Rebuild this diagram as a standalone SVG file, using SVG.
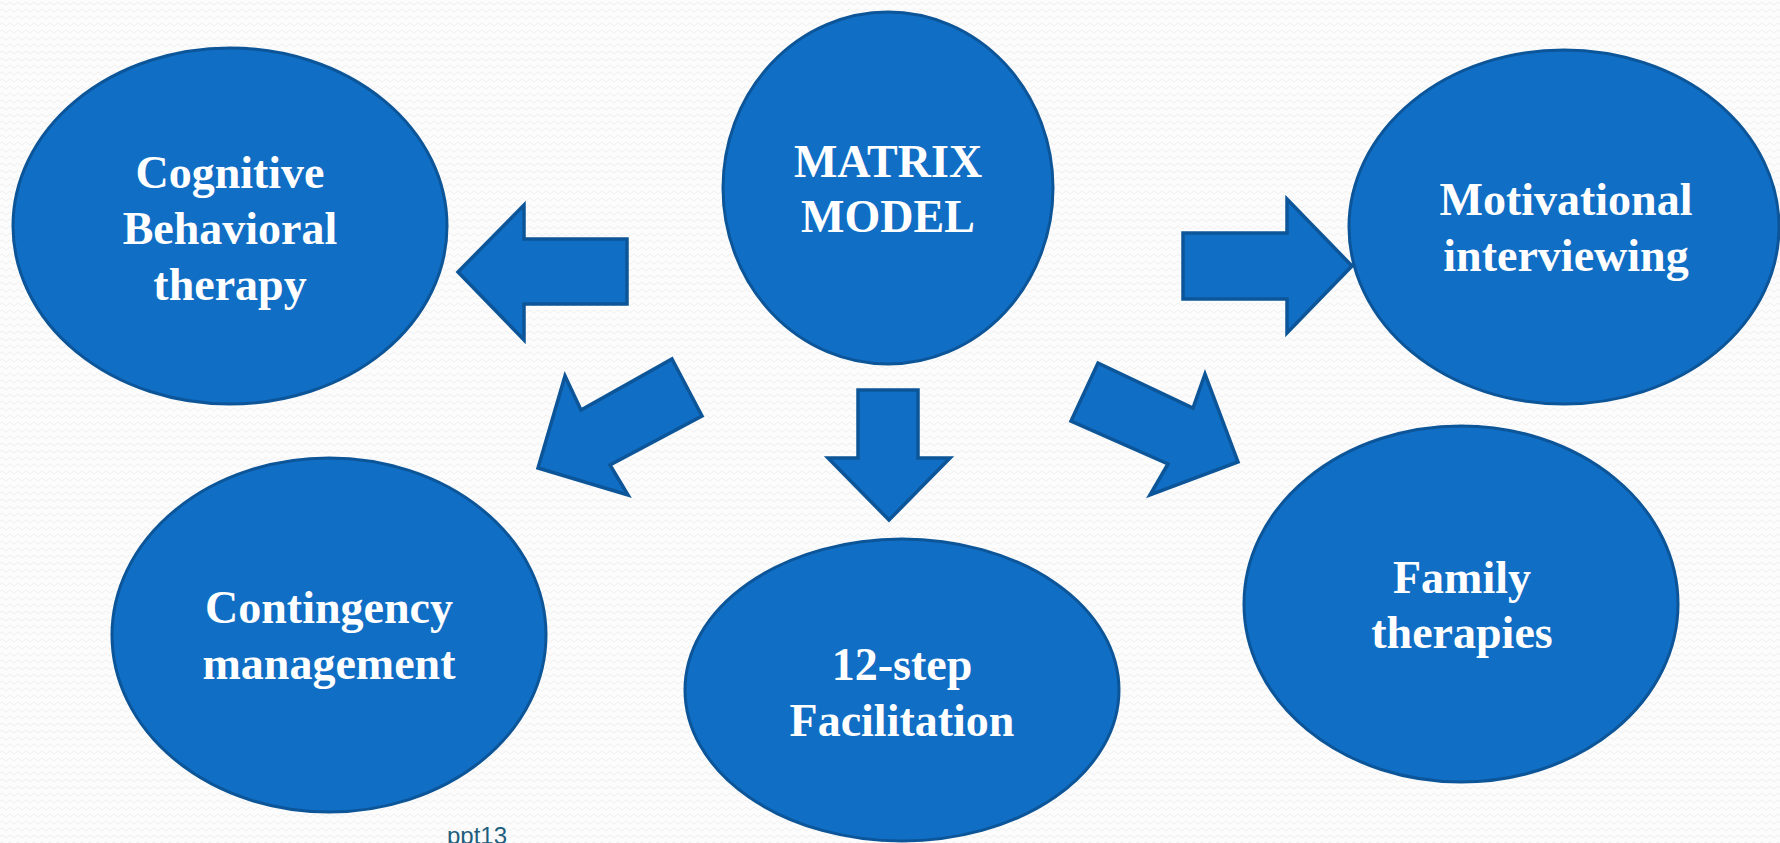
<svg xmlns="http://www.w3.org/2000/svg" width="1780" height="843" viewBox="0 0 1780 843">
  <defs>
    <pattern id="bgwave" x="0" y="0" width="8" height="7" patternUnits="userSpaceOnUse">
      <path d="M0 3.5 L2 2 L4 3.5 L6 5 L8 3.5" fill="none" stroke="#efefef" stroke-width="1"/>
    </pattern>
    <style>
      .node { fill: #116ec5; stroke: #0b5598; stroke-width: 3; }
      .arrow { fill: #116ec5; stroke: #0b5598; stroke-width: 3.5; stroke-linejoin: miter; }
      .lbl { font-family: "Liberation Serif", "Times New Roman", serif; font-weight: bold; font-size: 46px; fill: #ffffff; text-anchor: middle; }
      .foot { font-family: "Liberation Sans", Arial, sans-serif; font-size: 24px; fill: #1d5e7c; }
    </style>
  </defs>
  <rect width="1780" height="843" fill="#fcfcfc"/>
  <rect width="1780" height="843" fill="url(#bgwave)"/>

  <g id="connectors">
    <polygon class="arrow" points="458,272 524,205 524,239 627,239 627,304 524,304 524,340"/>
    <polygon class="arrow" points="672,359 702,416 610,465 628,495 538,468 565,376 581,410"/>
    <polygon class="arrow" points="858,390 918,390 918,458 950,458 889,520 828,458 858,458"/>
    <polygon class="arrow" points="1098,363 1193,408 1205,374 1238,462 1150,495 1168,464 1071,421"/>
    <polygon class="arrow" points="1183,233 1287,233 1287,199 1352,266 1287,333 1287,299 1183,299"/>
  </g>

  <g id="node-matrix">
    <ellipse class="node" cx="888" cy="188" rx="165" ry="176"/>
    <text class="lbl" x="888" y="177">MATRIX</text>
    <text class="lbl" x="888" y="232">MODEL</text>
  </g>
  <g id="node-cbt">
    <ellipse class="node" cx="230" cy="226" rx="217" ry="178"/>
    <text class="lbl" x="230" y="188">Cognitive</text>
    <text class="lbl" x="230" y="244">Behavioral</text>
    <text class="lbl" x="230" y="300">therapy</text>
  </g>
  <g id="node-mi">
    <ellipse class="node" cx="1564" cy="227" rx="215" ry="177"/>
    <text class="lbl" x="1566" y="215">Motivational</text>
    <text class="lbl" x="1566" y="271">interviewing</text>
  </g>
  <g id="node-cm">
    <ellipse class="node" cx="329" cy="635" rx="217" ry="177"/>
    <text class="lbl" x="329" y="623">Contingency</text>
    <text class="lbl" x="329" y="679">management</text>
  </g>
  <g id="node-12step">
    <ellipse class="node" cx="902" cy="690" rx="217" ry="151"/>
    <text class="lbl" x="902" y="680">12-step</text>
    <text class="lbl" x="902" y="736">Facilitation</text>
  </g>
  <g id="node-family">
    <ellipse class="node" cx="1461" cy="604" rx="217" ry="178"/>
    <text class="lbl" x="1462" y="593">Family</text>
    <text class="lbl" x="1462" y="648">therapies</text>
  </g>

  <text class="foot" x="447" y="844">ppt13</text>
</svg>
